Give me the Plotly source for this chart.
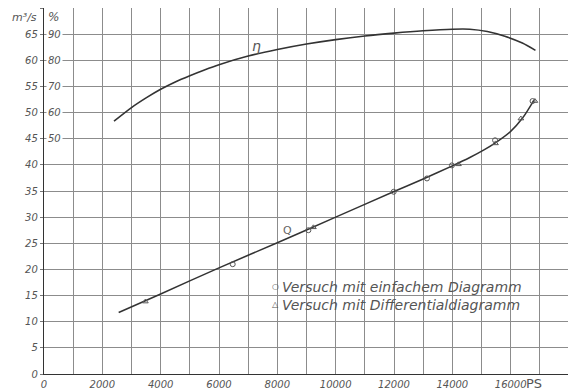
import plotly.graph_objects as go

# ---- data ----
leistung_q = [2560, 4000, 6000, 8000, 10000, 12000, 13000, 14000, 14600, 15100, 15500, 16000, 16400, 16800]
q_curve = [11.75, 15.3, 20.3, 25.1, 30.0, 34.9, 37.3, 39.8, 41.4, 42.9, 44.3, 46.4, 48.9, 52.4]

leistung_eta = [2400, 3000, 3500, 4000, 4500, 5000, 5500, 6000, 7000, 8000, 9000, 10000, 11000, 12000,
                13000, 14000, 14600, 15200, 15800, 16400, 16850]
eta_curve = [56.7, 61.9, 65.6, 68.9, 71.7, 74.1, 76.3, 78.3, 81.6, 84.1, 86.2, 87.9, 89.3, 90.4,
             91.3, 91.9, 91.9, 91.0, 89.2, 86.6, 83.8]

kreis_x = [6470, 9065, 11990, 13130, 13985, 15465, 16750]
kreis_q = [21.0, 27.5, 34.85, 37.4, 39.9, 44.7, 52.2]
dreieck_x = [3475, 9236, 14210, 15480, 16350, 16830]
dreieck_q = [13.85, 28.05, 40.1, 44.1, 48.85, 52.2]

x_grid = list(range(0, 18001, 1000))
x_labels = ["0", "", "2000", "", "4000", "", "6000", "", "8000", "", "10000", "", "12000", "",
            "14000", "", "16000", "", ""]
q_ticks = [0, 5, 10, 15, 20, 25, 30, 35, 40, 45, 50, 55, 60, 65, 70]
q_labels = ["0", "5", "10", "15", "20", "25", "30", "35", "40", "45", "50", "55", "60", "65", ""]
eta_ticks = [50, 60, 70, 80, 90]

legend_texts = ["Versuch mit einfachem Diagramm", "Versuch mit Differentialdiagramm"]
legend_symbols = ["○", "△"]
legend_y = [16.7, 13.2]

INK = "#333333"
GRID = "#8c8c8c"
BG = "#ffffff"
FONT = "DejaVu Sans"

fig = go.Figure()
fig.add_trace(go.Scatter(x=leistung_q, y=q_curve, mode="lines",
                         line=dict(color=INK, width=1.5, shape="spline", smoothing=0.8),
                         showlegend=False, hoverinfo="skip"))
fig.add_trace(go.Scatter(x=leistung_eta, y=eta_curve, mode="lines", yaxis="y2",
                         line=dict(color=INK, width=1.6, shape="spline", smoothing=0.8), showlegend=False))
fig.add_trace(go.Scatter(x=kreis_x, y=kreis_q, mode="markers",
                         marker=dict(symbol="circle-open", size=5, color="#555", line=dict(width=1)),
                         showlegend=False))
fig.add_trace(go.Scatter(x=dreieck_x, y=dreieck_q, mode="markers",
                         marker=dict(symbol="triangle-up-open", size=5, color="#555", line=dict(width=1)),
                         showlegend=False))

tickfont = dict(family=FONT, size=10, color="#555", style="italic")

# page has an 8px body margin, so the figure is 568x384 and offset by 8px
fig.update_layout(
    width=568, height=384,
    margin=dict(l=36, r=7, t=0, b=18),
    paper_bgcolor=BG, plot_bgcolor=BG,
    xaxis=dict(range=[0, 18000], tickmode="array", tickvals=x_grid, ticktext=x_labels, tickfont=tickfont,
               showgrid=True, gridcolor=GRID, gridwidth=1, automargin=False,
               showline=True, linecolor=INK, linewidth=1.3, mirror=True, zeroline=False,
               ticks="", ticklabelstandoff=1),
    yaxis=dict(range=[0, 70], tickmode="array", tickvals=q_ticks, ticktext=q_labels, tickfont=tickfont,
               showgrid=True, gridcolor=GRID, gridwidth=1, automargin=False,
               showline=True, linecolor=INK, linewidth=1.3, mirror=True, zeroline=False,
               ticks="outside", ticklen=3, tickcolor="#777"),
    yaxis2=dict(range=[-40, 100], overlaying="y", side="left", showgrid=False, showticklabels=False,
                zeroline=False, showline=False, automargin=False),
    showlegend=False,
)

# % tick labels inside plot, interrupting grid lines
for v in eta_ticks:
    fig.add_annotation(x=0, xref="paper", y=v, yref="y2", text=str(v), showarrow=False,
                       xanchor="left", xshift=2, font=tickfont, bgcolor=BG, borderpad=1)

fig.add_annotation(x=0, xref="paper", y=1, yref="paper", text="m³/s", showarrow=False,
                   xanchor="right", yanchor="top", xshift=-5, yshift=-1,
                   font=dict(family=FONT, size=11, color="#555", style="italic"))
fig.add_annotation(x=0, xref="paper", y=1, yref="paper", text="%", showarrow=False,
                   xanchor="left", yanchor="top", xshift=2, yshift=0, bgcolor=BG,
                   font=dict(family=FONT, size=12, color="#555", style="italic"))
fig.add_annotation(x=16000, xref="x", y=0, yref="paper", text="PS", showarrow=False,
                   xanchor="left", yanchor="top", xshift=13, yshift=0,
                   font=dict(family=FONT, size=13, color="#555"))

fig.add_annotation(x=7300, y=85.4, yref="y2", text="η", showarrow=False,
                   font=dict(family=FONT, size=14, color="#555", style="italic"))
fig.add_annotation(x=8350, y=27.5, text="Q", showarrow=False,
                   font=dict(family=FONT, size=11, color="#666"))

legend_font = dict(family=FONT, size=14, color="#555", style="italic")
for sym, txt, yy in zip(legend_symbols, legend_texts, legend_y):
    fig.add_annotation(x=7950, y=yy, text=sym, showarrow=False, xanchor="center",
                       font=dict(family=FONT, size=8, color="#555"))
    fig.add_annotation(x=8100, y=yy, text=txt, showarrow=False, xanchor="left", font=legend_font)

fig.write_html("out.html")
